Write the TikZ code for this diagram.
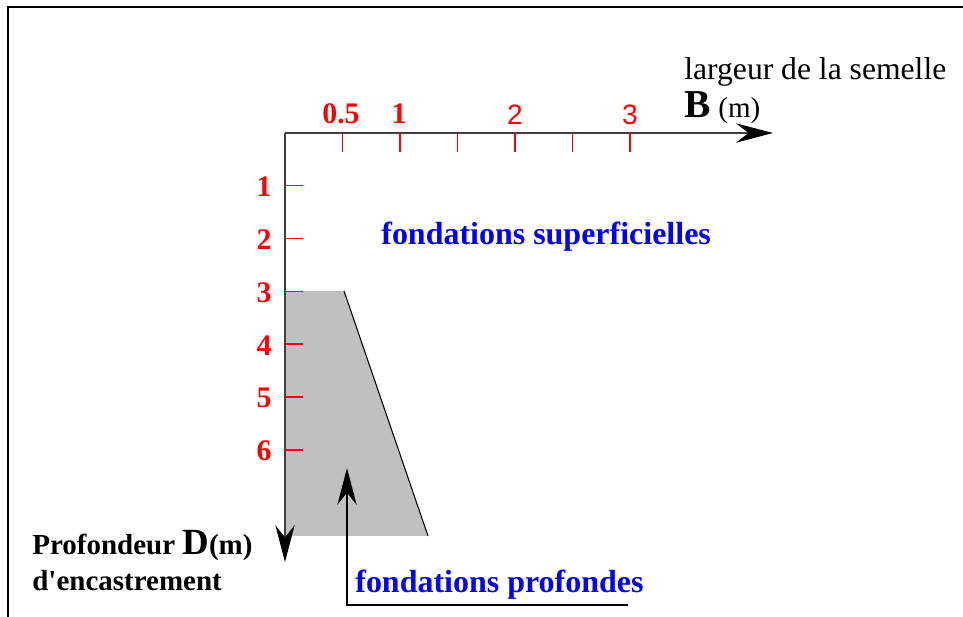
\documentclass[tikz,border=0pt]{standalone}
\usepackage{fontspec}
\setmainfont{Liberation Serif}[Ligatures=TeXOff]
\setsansfont{Liberation Sans}
\usetikzlibrary{arrows.meta, positioning, calc}
\definecolor{zonegris}{HTML}{C0C0C0}
\definecolor{axegris}{HTML}{404040}

\begin{document}
\begin{tikzpicture}[x=0.02cm, y=-0.02cm,
    every node/.style={inner sep=0pt},
    wire/.style={line width=1.1pt, draw=axegris},
    tick/.style={red, line width=0.8pt},
    num/.style={red, font=\fontsize{17}{18}\selectfont\bfseries},
    numsf/.style={red, font=\fontsize{16}{18}\selectfont\sffamily},
    zone/.style={blue, font=\fontsize{18.2}{20}\selectfont\bfseries},
    txt/.style={font=\fontsize{18}{20}\selectfont},
    txtb/.style={font=\fontsize{16.5}{20}\selectfont\bfseries},
    tip/.style={-{Stealth[length=21pt, width=11pt, inset=7pt, color=black]}}
]
\useasboundingbox (0,0) rectangle (963,617);

% Frame
\draw[line width=1.2pt] (8,617) -- (8,7) -- (963,7);

% Deep foundation zone
\fill[zonegris] (285,291) -- (344,291) -- (428,536) -- (285,536) -- cycle;
\draw[black, line width=0.6pt] (344,291) -- (428,536);

% Axes
\coordinate (O) at (285,133);
\coordinate (Bend) at (773,133);
\coordinate (Dend) at (285,562);
\draw[wire, tip] (O) -- (Bend);
\draw[wire, tip] (O) -- (Dend);

% Ticks on B axis
\foreach \k in {1,...,6}
  \draw[tick] ($(O)+(57.5*\k,0)$) -- ++(0,19);
\node[num, anchor=base] (b05) at (341,124) {0.5};
\node[num, anchor=base] (b1) at (399,124) {1};
\node[numsf, anchor=base] (b2) at (515,125) {2};
\node[numsf, anchor=base] (b3) at (630,125) {3};

% Ticks on D axis
\foreach \k in {1,...,6} {
  \draw[tick] ($(O)+(0,52.8*\k)$) -- ++(18,0);
  \node[num, anchor=east] (d\k) at ($(O)+(-13,52.8*\k+1)$) {\k};
}

% Axis titles
\node[txt, anchor=base west] (larg) at (684,80) {largeur de la semelle};
\node[anchor=base west, font=\fontsize{22.5}{24}\selectfont\bfseries] (B) at (684,118) {B};
\node[font=\fontsize{16.5}{18}\selectfont, anchor=base west, right=4pt of B.base east, anchor=base west] (Bm) {(m)};
\node[txtb, anchor=base west] (prof) at (32,555) {Profondeur \fontsize{21}{22}\selectfont D\fontsize{16.5}{20}\selectfont(m)};
\node[txtb, anchor=base west] (enc) at (32,590) {d'encastrement};

% Zone labels
\node[zone, anchor=base west] (sup) at (381,245) {fondations superficielles};
\node[zone, anchor=base west] (pro) at (355,592) {fondations profondes};

% Callout
\coordinate (cEnd) at (628,605);
\coordinate (cBend) at (347,605);
\coordinate (cTip) at (347,468);
\draw[black, line width=0.9pt, tip] (cEnd) -- (cBend) -- (cTip);
\end{tikzpicture}
\end{document}
